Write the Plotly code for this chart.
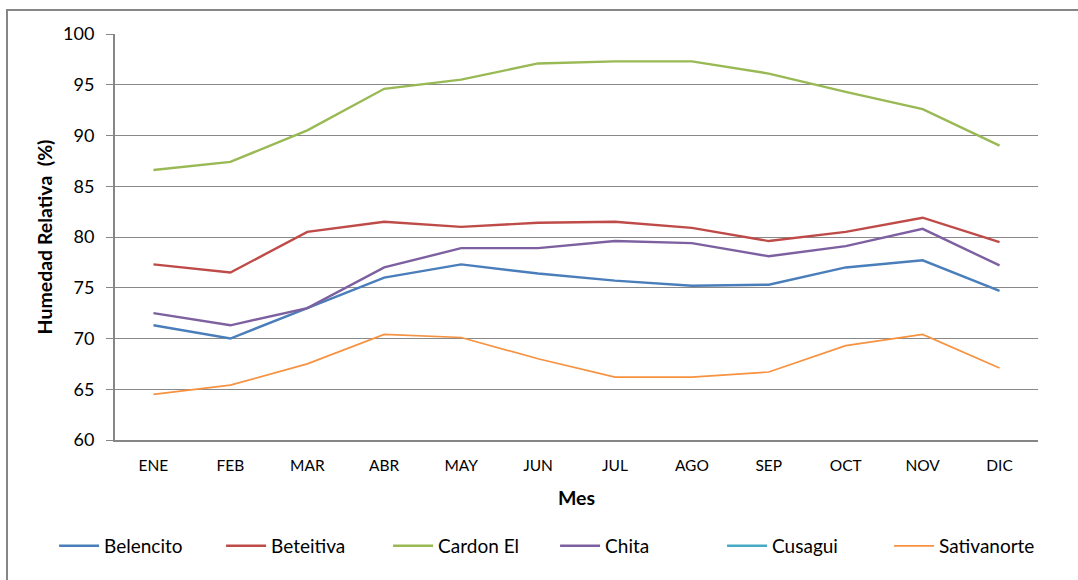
import plotly.graph_objects as go

meses = ["ENE", "FEB", "MAR", "ABR", "MAY", "JUN", "JUL", "AGO", "SEP", "OCT", "NOV", "DIC"]
belencito = [71.3, 70.0, 73.0, 76.0, 77.3, 76.4, 75.7, 75.2, 75.3, 77.0, 77.7, 74.7]
beteitiva = [77.3, 76.5, 80.5, 81.5, 81.0, 81.4, 81.5, 80.9, 79.6, 80.5, 81.9, 79.5]
cardon_el = [86.6, 87.4, 90.5, 94.6, 95.5, 97.1, 97.3, 97.3, 96.1, 94.3, 92.6, 89.0]
chita = [72.5, 71.3, 73.0, 77.0, 78.9, 78.9, 79.6, 79.4, 78.1, 79.1, 80.8, 77.2]
cusagui = [None] * 12
sativanorte = [64.5, 65.4, 67.5, 70.4, 70.1, 68.0, 66.2, 66.2, 66.7, 69.3, 70.4, 67.1]

series = [
    ("Belencito", belencito, "#4A7EBB", 2.4),
    ("Beteitiva", beteitiva, "#BE4B48", 2.4),
    ("Cardon El", cardon_el, "#98B954", 2.4),
    ("Chita", chita, "#7D60A0", 2.4),
    ("Cusagui", cusagui, "#46AAC5", 2.4),
    ("Sativanorte", sativanorte, "#F69240", 1.7),
]

FONT = "Lato"
fig = go.Figure()
for name, vals, color, w in series:
    fig.add_trace(go.Scatter(x=meses, y=vals, name=name, mode="lines",
                             line=dict(color=color, width=w)))

fig.update_layout(
    width=1078, height=580,
    margin=dict(l=115, r=40, t=34, b=140),
    paper_bgcolor="white", plot_bgcolor="white",
    font=dict(family=FONT, color="#000000"),
    showlegend=True,
    legend=dict(orientation="h", x=-0.066, xanchor="left", y=-0.261, yanchor="middle",
                font=dict(size=19, family=FONT), entrywidth=112, entrywidthmode="pixels",
                itemwidth=40),
    xaxis=dict(
        range=[-0.5, 11.5],
        showline=True, linecolor="#868686", linewidth=2,
        showgrid=False, ticks="", tickfont=dict(size=15.5), ticklabelstandoff=10,
        title=dict(text="<b>Mes</b>", font=dict(size=19.5), standoff=19),
    ),
    yaxis=dict(
        range=[60, 100], dtick=5, tick0=60,
        showline=True, linecolor="#868686", linewidth=2,
        showgrid=True, gridcolor="#898989", gridwidth=1.3,
        ticks="outside", ticklen=7, tickcolor="#868686", tickwidth=1.3,
        tickfont=dict(size=18), ticklabelstandoff=8,
        title=dict(text="<b>Humedad Relativa  (%)</b>", font=dict(size=19.5), standoff=5),
    ),
    shapes=[dict(type="rect", xref="paper", yref="paper",
                 x0=-0.117, x1=1.05, y0=-0.36, y1=1.059,
                 line=dict(color="#868686", width=2), fillcolor="rgba(0,0,0,0)", layer="below")],
)

fig.write_html("out.html")
